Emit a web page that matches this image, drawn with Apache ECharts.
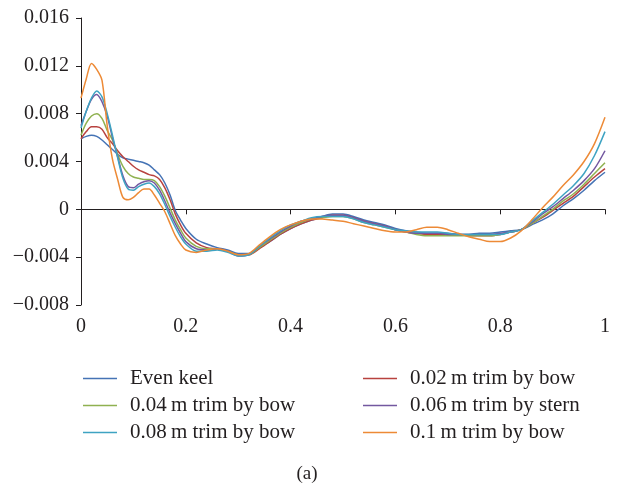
<!DOCTYPE html>
<html>
<head>
<meta charset="utf-8">
<script src="https://cdn.jsdelivr.net/npm/echarts@6/dist/echarts.min.js"></script>
<style>
html,body{margin:0;padding:0;background:#fff;}
#chart{width:620px;height:486px;}
</style>
</head>
<body>
<div id="chart"></div>
<script>
var xs = [0,0.01,0.02,0.03,0.04,0.05,0.06,0.07,0.08,0.09,0.1,0.11,0.12,0.13,0.14,0.15,0.16,0.17,0.18,0.19,0.2,
  0.22,0.24,0.26,0.28,0.3,0.32,0.34,0.36,0.38,0.4,0.42,0.44,0.46,0.48,0.5,0.52,0.54,0.56,0.58,0.6,
  0.62,0.64,0.66,0.68,0.7,0.72,0.74,0.76,0.78,0.8,0.82,0.84,0.86,0.88,0.9,0.92,0.94,0.96,0.98,1.0];

var evenKeel = [0.0059,0.0061,0.0062,0.0061,0.0058,0.0054,0.0050,0.0046,0.0043,0.0042,0.0041,0.0040,0.0039,0.0037,0.0033,0.0029,0.0022,0.0012,-0.0001,-0.0009,-0.0016,
  -0.0025,-0.0029,-0.0032,-0.0034,-0.0037,-0.0037,-0.0032,-0.0027,-0.0021,-0.0016,-0.0012,-0.0009,-0.0006,-0.0004,-0.0004,-0.0006,-0.0009,-0.0011,-0.0013,-0.0016,
  -0.0018,-0.0019,-0.0020,-0.0020,-0.0020,-0.0021,-0.0021,-0.0020,-0.0020,-0.0019,-0.0018,-0.0017,-0.0013,-0.0009,-0.0004,0.0003,0.0009,0.0016,0.0024,0.0031];

var bow002 = [0.0059,0.0065,0.0069,0.0069,0.0067,0.0060,0.0055,0.0049,0.0044,0.0040,0.0036,0.0033,0.0031,0.0029,0.0028,0.0025,0.0018,0.0008,-0.0004,-0.0013,-0.0020,
  -0.0028,-0.0032,-0.0033,-0.0035,-0.0038,-0.0038,-0.0033,-0.0027,-0.0021,-0.0016,-0.0012,-0.0009,-0.0007,-0.0005,-0.0005,-0.0007,-0.0010,-0.0012,-0.0014,-0.0017,
  -0.0019,-0.0020,-0.0021,-0.0021,-0.0021,-0.0021,-0.0022,-0.0022,-0.0022,-0.0021,-0.0019,-0.0017,-0.0012,-0.0007,-0.0001,0.0005,0.0011,0.0019,0.0027,0.0034];

var bow004 = [0.0062,0.0072,0.0078,0.0080,0.0076,0.0066,0.0058,0.0046,0.0036,0.0030,0.0027,0.0026,0.0025,0.0025,0.0024,0.0019,0.0011,0.0001,-0.0009,-0.0017,-0.0024,
  -0.0031,-0.0033,-0.0033,-0.0035,-0.0038,-0.0038,-0.0032,-0.0026,-0.0020,-0.0015,-0.0011,-0.0008,-0.0007,-0.0006,-0.0006,-0.0008,-0.0011,-0.0013,-0.0015,-0.0017,
  -0.0019,-0.0021,-0.0022,-0.0022,-0.0022,-0.0022,-0.0022,-0.0022,-0.0022,-0.0021,-0.0019,-0.0017,-0.0012,-0.0006,0.0000,0.0007,0.0013,0.0021,0.0030,0.0039];

var stern006 = [0.0070,0.0082,0.0092,0.0096,0.0090,0.0078,0.0060,0.0044,0.0028,0.0019,0.0018,0.0021,0.0023,0.0024,0.0022,0.0016,0.0007,-0.0003,-0.0012,-0.0020,-0.0027,
  -0.0033,-0.0034,-0.0033,-0.0035,-0.0039,-0.0038,-0.0031,-0.0025,-0.0019,-0.0014,-0.0010,-0.0008,-0.0006,-0.0005,-0.0005,-0.0007,-0.0010,-0.0012,-0.0014,-0.0017,
  -0.0019,-0.0020,-0.0020,-0.0020,-0.0021,-0.0021,-0.0021,-0.0021,-0.0021,-0.0020,-0.0019,-0.0017,-0.0011,-0.0004,0.0002,0.0009,0.0016,0.0024,0.0034,0.0049];

var bow008 = [0.0068,0.0082,0.0093,0.0099,0.0094,0.0080,0.0062,0.0043,0.0026,0.0017,0.0016,0.0019,0.0021,0.0022,0.0019,0.0013,0.0004,-0.0006,-0.0015,-0.0023,-0.0029,
  -0.0035,-0.0035,-0.0034,-0.0036,-0.0039,-0.0038,-0.0031,-0.0024,-0.0018,-0.0013,-0.0010,-0.0007,-0.0006,-0.0006,-0.0006,-0.0008,-0.0011,-0.0013,-0.0015,-0.0017,
  -0.0018,-0.0019,-0.0019,-0.0019,-0.0020,-0.0021,-0.0021,-0.0021,-0.0021,-0.0021,-0.0019,-0.0017,-0.0010,-0.0003,0.0004,0.0012,0.0020,0.0030,0.0045,0.0065];

var bow010 = [0.0093,0.0109,0.0122,0.0117,0.0108,0.0070,0.0042,0.0025,0.0010,0.0008,0.0010,0.0014,0.0017,0.0017,0.0012,0.0005,-0.0002,-0.0012,-0.0022,-0.0029,-0.0034,
  -0.0036,-0.0034,-0.0033,-0.0035,-0.0038,-0.0037,-0.0030,-0.0023,-0.0017,-0.0013,-0.0010,-0.0008,-0.0008,-0.0009,-0.0010,-0.0012,-0.0014,-0.0016,-0.0018,-0.0019,
  -0.0019,-0.0017,-0.0015,-0.0015,-0.0017,-0.0020,-0.0023,-0.0025,-0.0027,-0.0027,-0.0024,-0.0018,-0.0009,0.0001,0.0010,0.0020,0.0029,0.0040,0.0055,0.0077];

var seriesNames = ['Even keel','0.02\u2009m trim by bow','0.04\u2009m trim by bow','0.06\u2009m trim by stern','0.08\u2009m trim by bow','0.1\u2009m trim by bow'];
var seriesValues = [evenKeel, bow002, bow004, stern006, bow008, bow010];
var seriesColors = ['#4573b5','#b8423f','#8fb150','#7358a0','#3ea3c2','#ed8a36'];
var xTicks = ['0','0.2','0.4','0.6','0.8','1'];
var yTicks = ['\u22120.008','\u22120.004','0','0.004','0.008','0.012','0.016'];

var FONT = '"Liberation Serif","DejaVu Serif",serif';
var chart = echarts.init(document.getElementById('chart'), null, {renderer:'canvas'});

function pairs(vals){ return xs.map(function(x,i){ return [x, vals[i]]; }); }

var series = seriesNames.map(function(n,i){
  return {
    name: n, type: 'line', data: pairs(seriesValues[i]),
    showSymbol: false, symbol: 'none', smooth: 0.3,
    lineStyle: {width: 1.5, color: seriesColors[i]},
    itemStyle: {color: seriesColors[i]},
    emphasis: {disabled: true}
  };
});

var legendCommon = {
  orient: 'vertical', icon: 'rect', itemWidth: 34, itemHeight: 1.6, itemGap: 4,
  textStyle: {fontFamily: FONT, fontSize: 21, color: '#231f20', lineHeight: 23, padding: [0,0,0,8]},
  selectedMode: false
};

chart.setOption({
  animation: false,
  backgroundColor: '#fff',
  textStyle: {fontFamily: FONT},
  title: {
    text: '(a)', left: 307, top: 465, textAlign: 'center', padding: 0,
    textStyle: {fontFamily: FONT, fontSize: 19, fontWeight: 'normal', color: '#231f20'}
  },
  grid: {left: 81, right: 15, top: 18, bottom: 181, containLabel: false},
  legend: [
    Object.assign({}, legendCommon, {left: 78, top: 362, data: [seriesNames[0], seriesNames[2], seriesNames[4]]}),
    Object.assign({}, legendCommon, {left: 358, top: 362, data: [seriesNames[1], seriesNames[3], seriesNames[5]]})
  ],
  xAxis: {
    type: 'value', min: 0, max: 1, interval: 0.2,
    axisLine: {show: true, lineStyle: {color: '#231f20', width: 1}},
    axisTick: {show: true, length: 5, lineStyle: {color: '#231f20'}},
    splitLine: {show: false},
    axisLabel: {fontFamily: FONT, fontSize: 20, color: '#231f20', margin: 12,
      formatter: function(v){ return xTicks[Math.round(v/0.2)]; }}
  },
  yAxis: {
    type: 'value', min: -0.008, max: 0.016, interval: 0.004,
    axisLine: {show: true, onZero: false, lineStyle: {color: '#231f20', width: 1}},
    axisTick: {show: true, length: 5, lineStyle: {color: '#231f20'}},
    splitLine: {show: false},
    axisLabel: {fontFamily: FONT, fontSize: 20, color: '#231f20', margin: 12,
      formatter: function(v){ return yTicks[Math.round((v + 0.008)/0.004)]; }}
  },
  series: series
});
</script>
</body>
</html>
